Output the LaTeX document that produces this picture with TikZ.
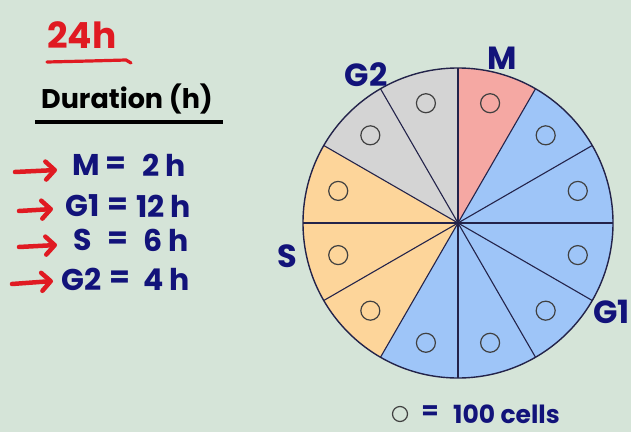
\documentclass[tikz,border=0pt]{standalone}
\usepackage{fontspec}
\setmainfont{Poppins}
\usetikzlibrary{arrows.meta}
\definecolor{bg}{HTML}{D5E4D8}
\definecolor{pinkM}{HTML}{F5A8A3}
\definecolor{blueG}{HTML}{9EC5F8}
\definecolor{orangeS}{HTML}{FDD59A}
\definecolor{grayG}{HTML}{D4D4D4}
\definecolor{ink}{HTML}{12137A}
\definecolor{redink}{HTML}{E01A22}
\definecolor{edge}{HTML}{23234A}
\begin{document}
\begin{tikzpicture}[x=1pt,y=1pt,
  lab/.style={text=ink,font=\fontsize{32}{32}\selectfont\bfseries,inner sep=0pt},
  rowtxt/.style={text=ink,font=\fontsize{30}{30}\selectfont\bfseries,inner sep=0pt},
  arr/.style={draw=redink,line width=4.5pt,line cap=round,-{Straight Barb[length=9pt,width=18pt,round]}},
  cell/.style={circle,draw=black!75,line width=1.2pt,minimum size=19pt,inner sep=0pt},
  spoke/.style={draw=edge,line width=1.1pt},
]
\fill[bg] (0,0) rectangle (631,432);
\useasboundingbox (0,0) rectangle (631,432);
\def\R{155}
\coordinate (O) at (458,209);
% sectors
\foreach \a/\c in {60/pinkM,90/grayG,120/grayG,150/orangeS,180/orangeS,210/orangeS,240/blueG,270/blueG,300/blueG,330/blueG,0/blueG,30/blueG}{
  \fill[\c] (O) -- ([shift={(\a:\R)}]O) arc[start angle=\a, delta angle=30, radius=\R] -- cycle;
}
\foreach \a in {0,30,...,330}{
  \draw[spoke] (O) -- ([shift={(\a:\R)}]O);
}
\draw[draw=edge,line width=1.4pt] (O) circle[radius=\R];
\foreach \a [count=\i] in {15,45,...,345}{
  \node[cell] (c\i) at ([shift={(\a:124)}]O) {};
}
% phase labels
\node[lab] (lM) at (502,374) {M};
\node[lab] (lG2) at (366,357) {G2};
\node[lab] (lS) at (287,176) {S};
\node[lab,anchor=east] (lG1) at (630,120) {G1};
% legend
\node[cell,minimum size=15pt] (leg) at (400,18) {};
\node[text=ink,font=\fontsize{25}{25}\selectfont\bfseries,inner sep=0pt] (legeq) at (430,19) {=};
\node[text=ink,font=\fontsize{25}{25}\selectfont\bfseries,inner sep=0pt,anchor=west] (legtxt) at (453,18) {100 cells};
% title
\node[text=redink,font=\fontsize{36}{36}\selectfont\bfseries,inner sep=0pt] (t24) at (82,397) {24h};
\draw[redink,line width=3.2pt,line cap=round] (47,370) .. controls (90,371) .. (126,372) -- (131,369);
\node[font=\fontsize{27}{27}\selectfont\bfseries,inner sep=0pt] (dur) at (127,333) {Duration (h)};
\draw[line width=3.5pt] (35,310) -- (223,310);
% rows
\node[rowtxt,anchor=east] (rM) at (100,267) {M};
\node[rowtxt] (eM) at (116,267) {=};
\node[rowtxt,anchor=west] (vM) at (142,267) {2 h};
\node[rowtxt,anchor=east] (rG1) at (100,226) {G1};
\node[rowtxt] (eG1) at (118,226) {=};
\node[rowtxt,anchor=west] (vG1) at (136,226) {12 h};
\node[rowtxt,anchor=east] (rS) at (92,192) {S};
\node[rowtxt] (eS) at (118,192) {=};
\node[rowtxt,anchor=west] (vS) at (143,192) {6 h};
\node[rowtxt,anchor=east] (rG2) at (102,153) {G2};
\node[rowtxt] (eG2) at (120,153) {=};
\node[rowtxt,anchor=west] (vG2) at (143,153) {4 h};
\coordinate (a1s) at (15,260);
\coordinate (a1e) at (57,262);
\coordinate (a2s) at (19,221);
\coordinate (a2e) at (53,223);
\coordinate (a3s) at (19,185);
\coordinate (a3e) at (57,187);
\coordinate (a4s) at (12,148);
\coordinate (a4e) at (53,151);
\draw[arr] (a1s) -- (a1e);
\draw[arr] (a2s) -- (a2e);
\draw[arr] (a3s) -- (a3e);
\draw[arr] (a4s) -- (a4e);
\end{tikzpicture}
\end{document}
